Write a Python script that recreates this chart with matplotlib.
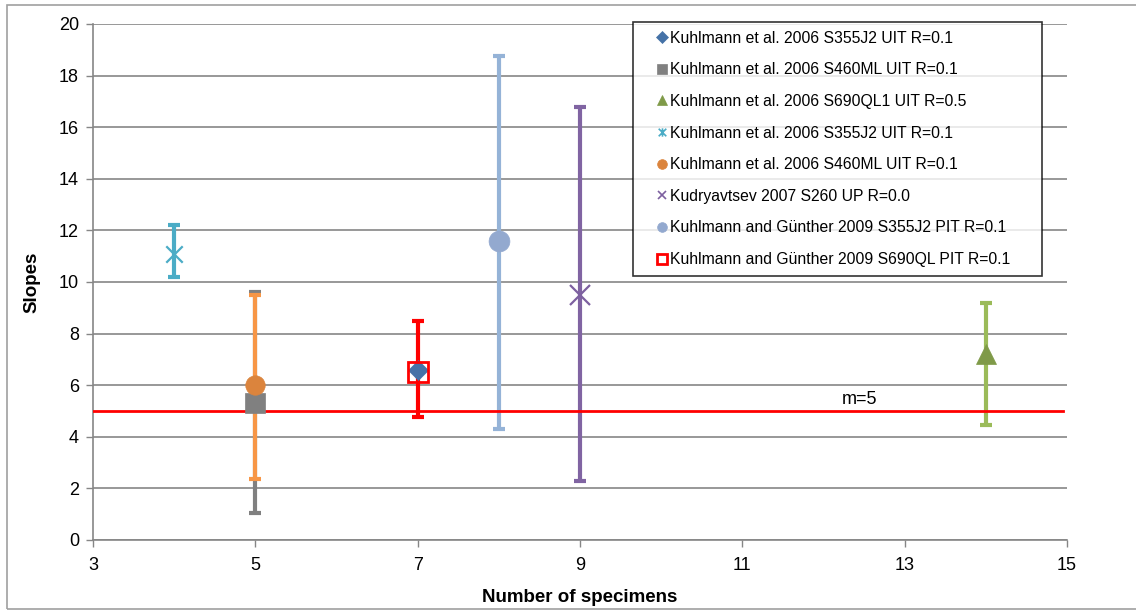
import matplotlib.pyplot as plt
from matplotlib.patches import Rectangle
from matplotlib.path import Path

plt.rcParams["font.family"] = ["Liberation Sans", "DejaVu Sans"]

labels = [
    "Kuhlmann et al. 2006 S355J2 UIT R=0.1",
    "Kuhlmann et al. 2006 S460ML UIT R=0.1",
    "Kuhlmann et al. 2006 S690QL1 UIT R=0.5",
    "Kuhlmann et al. 2006 S355J2 UIT R=0.1",
    "Kuhlmann et al. 2006 S460ML UIT R=0.1",
    "Kudryavtsev 2007 S260 UP R=0.0",
    "Kuhlmann and Günther 2009 S355J2 PIT R=0.1",
    "Kuhlmann and Günther 2009 S690QL PIT R=0.1",
]
specimens = [7, 5, 14, 4, 5, 9, 8, 7]
slopes = [6.6, 5.3, 7.2, 11.1, 6.0, 9.5, 11.6, 6.5]
err_low = [None, 1.05, 4.45, 10.2, 2.35, 2.3, 4.3, 4.75]
err_high = [None, 9.6, 9.2, 12.2, 9.5, 16.8, 18.75, 8.5]
m_ref = 5

# Excel-style star: an x with a vertical stroke through it
star = Path([(-1, -1), (1, 1), (-1, 1), (1, -1), (0, -1.1), (0, 1.1)],
            [Path.MOVETO, Path.LINETO, Path.MOVETO, Path.LINETO, Path.MOVETO, Path.LINETO])

# style per series: marker, face color, edge color, size, errorbar color
styles = [
    ("D", "#4572a7", "#4572a7", 10, None),
    ("s", "#808080", "#808080", 14, "#808080"),
    ("^", "#7f9a48", "#7f9a48", 15, "#9bbb59"),
    (star, "#4bacc6", "#4bacc6", 13, "#4bacc6"),
    ("o", "#db843d", "#db843d", 14, "#f79646"),
    ("x", "#7d60a0", "#7d60a0", 14, "#8064a2"),
    ("o", "#93a9cf", "#93a9cf", 15, "#95b3d7"),
    ("s", "none", "#ff0000", 14, "#ff0000"),
]
legend_sizes = [6, 6.5, 7, 6, 7, 6, 7, 7]

fig = plt.figure(figsize=(11.36, 6.1), dpi=100)
ax = fig.add_axes([93 / 1136, 1 - 540 / 610, (1067 - 93) / 1136, (540 - 24) / 610])
fig.patches.append(Rectangle((7 / 1136, 1 / 610), 1.0, 1 - 6 / 610, transform=fig.transFigure,
                             fill=False, edgecolor="#a0a0a0", lw=1.2))

# error bars first
order = [1, 4, 3, 7, 6, 5, 2]
for i in order:
    ec = styles[i][4]
    lo, hi = err_low[i], err_high[i]
    ax.errorbar([specimens[i]], [slopes[i]],
                yerr=[[slopes[i] - lo], [hi - slopes[i]]],
                fmt="none", ecolor=ec, elinewidth=3, capsize=4.3, capthick=3, zorder=2)

ax.axhline(m_ref, color="#ff0000", lw=2, zorder=3, xmax=0.996)
ax.text(12.45, 5.45, "m=5", fontsize=13, ha="center", va="center")

handles = []
for i in range(len(labels)):
    mk, fc, edge, ms, _ = styles[i]
    kw = dict(marker=mk, linestyle="none", markersize=ms, zorder=4, label=labels[i])
    if fc != "none" and (mk == "x" or isinstance(mk, Path)):
        kw.update(color=edge, markeredgewidth=1.6)
    else:
        kw.update(markerfacecolor=fc, markeredgecolor=edge,
                  markeredgewidth=2 if fc == "none" else 0.5)
    h, = ax.plot([specimens[i]], [slopes[i]], **kw)
    handles.append(h)

ax.set_xlim(3, 15)
ax.set_ylim(0, 20)
ax.set_xticks(range(3, 16, 2))
ax.set_yticks(range(0, 21, 2))
ax.tick_params(labelsize=13, color="#868686", length=5, width=1)
ax.tick_params(axis="x", pad=7)
ax.tick_params(axis="y", pad=5)
ax.grid(axis="y", color="#868686", lw=1.2)
ax.set_axisbelow(True)
for s in ["top", "right"]:
    ax.spines[s].set_visible(False)
for s in ["left", "bottom"]:
    ax.spines[s].set_color("#868686")
    ax.spines[s].set_linewidth(1.2)
ax.set_xlabel("Number of specimens", fontsize=13.5, fontweight="bold", labelpad=11)
ax.set_ylabel("Slopes", fontsize=13.5, fontweight="bold", labelpad=13)

leg_x0 = (633 - 93) / 974
leg_w = (1042 - 633) / 974
leg_top = (540 - 22) / 516
leg = ax.legend(handles=handles, loc="upper left",
                bbox_to_anchor=(leg_x0, leg_top - 0.6, leg_w, 0.6), mode="expand",
                fontsize=11.3, frameon=True, fancybox=False, edgecolor="black",
                handlelength=2.55, handletextpad=-0.76, labelspacing=1.06,
                borderpad=0.55, borderaxespad=0)
leg.get_frame().set_linewidth(1.2)
for h, s in zip(leg.legend_handles, legend_sizes):
    h.set_markersize(s)
    if h.get_marker() == "x" or isinstance(h.get_marker(), Path):
        h.set_markeredgewidth(1.2)

fig.savefig("out.png", dpi=100)
